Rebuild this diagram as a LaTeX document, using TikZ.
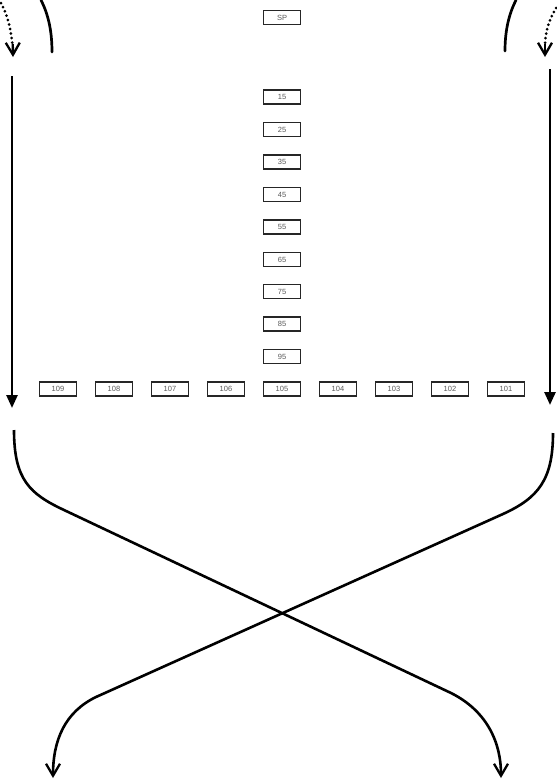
\documentclass[tikz,border=0pt]{standalone}
\usepackage{fontspec}
\setmainfont{Liberation Sans}
\usetikzlibrary{arrows.meta}
\begin{document}
\begin{tikzpicture}[x=1pt,y=-1pt,
  cell/.style={draw=black!85,line width=1.3pt,minimum width=37pt,minimum height=14pt,inner sep=0pt,
    font=\fontsize{7.5}{7.5}\selectfont,text=black!65},
  thick line/.style={line width=2.7pt,line cap=round},
  dotline/.style={line width=3pt,dash pattern=on 0pt off 4.6pt,line cap=round},
  vtip/.style={-{Straight Barb[length=12pt,width=14pt,line width=2.3pt]}},
  ftip/.style={-{Triangle[length=13pt,width=11pt]}}]
\useasboundingbox (0,0) rectangle (557,782);
% column
\node[cell] (sp) at (282,17.5) {SP};
\foreach \n/\y in {15/97,25/129.5,35/162,45/194.5,55/227,65/259.5,75/291.5,85/324,95/356.5}
  \node[cell] (c\n) at (282,\y) {\n};
% row
\foreach \n/\x in {109/58,108/114,107/170,106/226,105/282,104/338,103/394,102/450,101/506}
  \node[cell] (r\n) at (\x,389) {\n};
% coordinates
\coordinate (la1) at (41,0);  \coordinate (la2) at (52,52);
\coordinate (ld1) at (1,3);   \coordinate (ld2) at (13,57);
\coordinate (ra1) at (516,0); \coordinate (ra2) at (505,51);
\coordinate (rd1) at (556,8); \coordinate (rd2) at (545,57);
\coordinate (lv1) at (12,76); \coordinate (lv2) at (12,408);
\coordinate (rv1) at (550,69);\coordinate (rv2) at (550,405);
\coordinate (lc1) at (14,430); \coordinate (lb1) at (64,510); \coordinate (lb2) at (451,693); \coordinate (lc2) at (501,778);
\coordinate (rc1) at (553,433); \coordinate (rb1) at (503,514); \coordinate (rb2) at (96,697); \coordinate (rc2) at (53,778);
% top arcs
\draw[thick line] (la1) .. controls (48,14) and (52,30) .. (la2);
\draw[thick line] (ra1) .. controls (509,14) and (505,30) .. (ra2);
\draw[dotline] (ld1) .. controls (7,14) and (11,28) .. (12.5,46);
\draw[line width=2.3pt,vtip] (12.8,44) -- (ld2);
\draw[dotline] (rd1) .. controls (549,20) and (545,32) .. (545,46);
\draw[line width=2.3pt,vtip] (545,44) -- (rd2);
% verticals
\draw[line width=2.6pt,ftip] (lv1) -- (lv2);
\draw[line width=2.6pt,ftip] (rv1) -- (rv2);
% crossing curves
\draw[line width=2.6pt,vtip] (lc1) .. controls (14,480) and (30,494) .. (lb1) -- (lb2) .. controls (485,710) and (501,740) .. (lc2);
\draw[line width=2.6pt,vtip] (rc1) .. controls (553,480) and (538,498) .. (rb1) -- (rb2) .. controls (65,712) and (53,740) .. (rc2);
\end{tikzpicture}
\end{document}
